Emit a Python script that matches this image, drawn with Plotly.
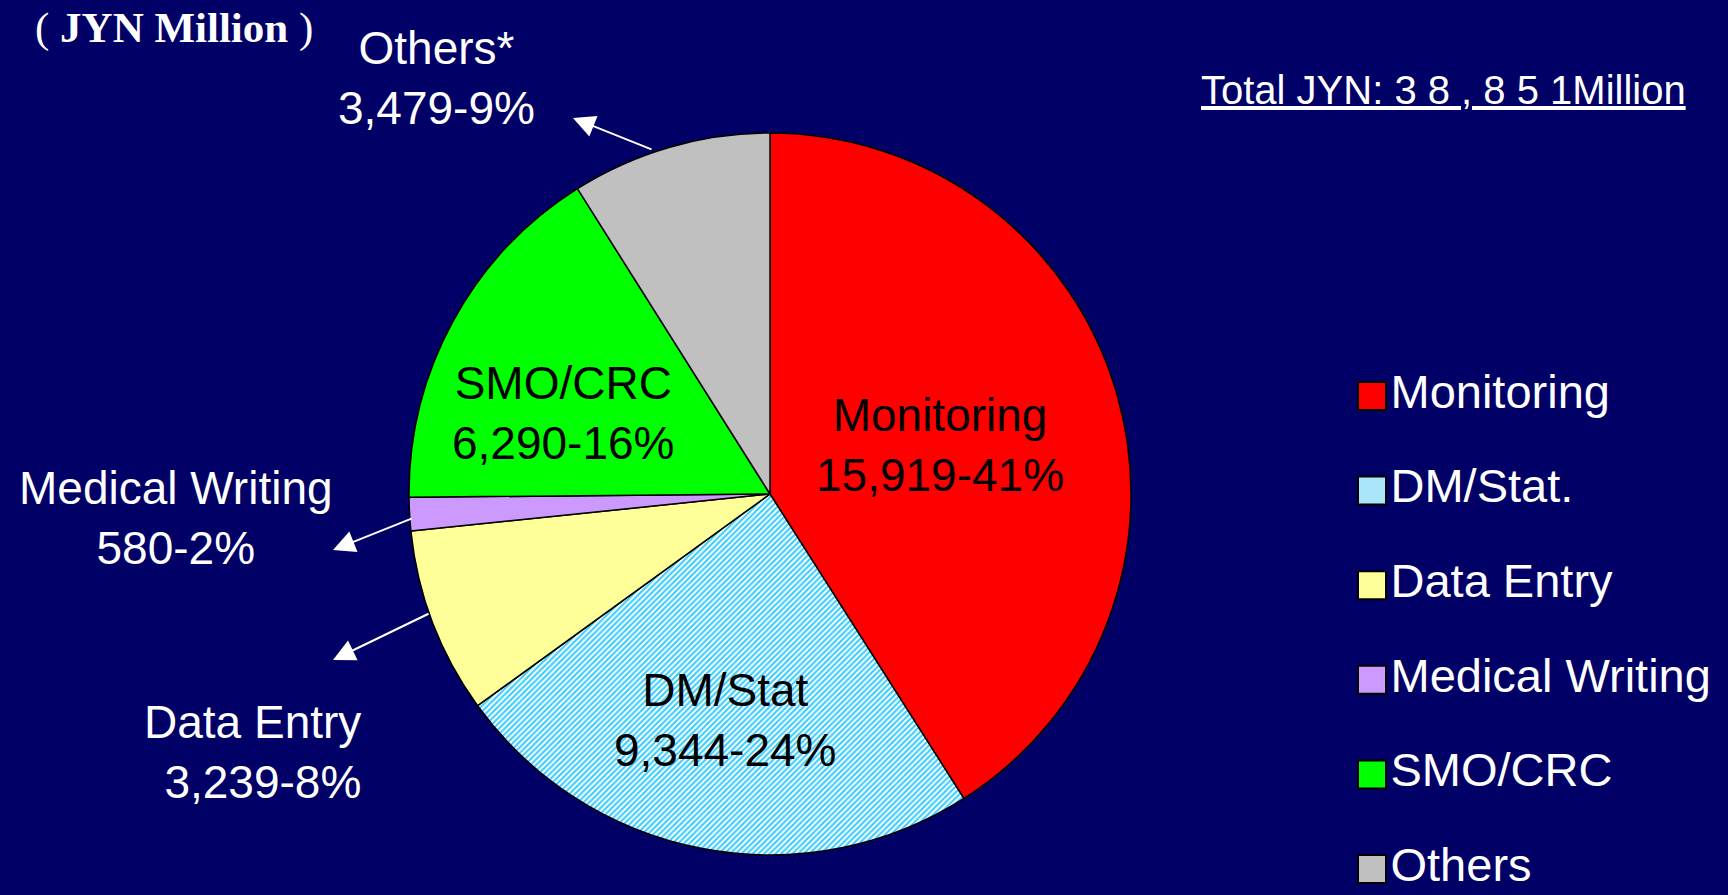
import plotly.graph_objects as go

# ---- data ----
categories = ["Monitoring", "DM/Stat", "Data Entry", "Medical Writing", "SMO/CRC", "Others*"]
values = [15919, 9344, 3239, 580, 6290, 3479]
percents = [41, 24, 8, 2, 16, 9]
legend_labels = ["Monitoring", "DM/Stat.", "Data Entry", "Medical Writing", "SMO/CRC", "Others"]
colors = ["#FF0000", "#A9E6FA", "#FFFF99", "#CC99FF", "#00FF00", "#C0C0C0"]

W, H = 1728, 895
BG = "#000066"
SANS = "Liberation Sans, Arial, sans-serif"
SERIF = "Liberation Serif, Times New Roman, serif"

def px(x):
    return x / W

def py(y):
    return 1 - y / H

fig = go.Figure()

# pie
cx, cy, r = 770, 494, 361
fig.add_trace(go.Pie(
    labels=categories,
    values=values,
    sort=False,
    direction="clockwise",
    rotation=0,
    textinfo="none",
    hoverinfo="label+value+percent",
    showlegend=False,
    marker=dict(
        colors=["#FF0000", "#FFFFFF", "#FFFF99", "#CC99FF", "#00FF00", "#C0C0C0"],
        line=dict(color="black", width=1.5),
        pattern=dict(
            shape=["", "/", "", "", "", ""],
            fgcolor="#33CCFF",
            bgcolor="#FFFFFF",
            size=4,
            solidity=0.5,
        ),
    ),
    domain=dict(x=[px(cx - r), px(cx + r)], y=[py(cy + r), py(cy - r)]),
))

# legend drawn as square markers with text on hidden axes
fig.add_trace(go.Scatter(
    x=[0] * len(legend_labels),
    y=legend_labels,
    mode="markers+text",
    text=legend_labels,
    textposition="middle right",
    textfont=dict(family=SANS, size=47, color="white"),
    marker=dict(symbol="square", size=28, color=colors,
                line=dict(color="black", width=2)),
    showlegend=False,
    hoverinfo="skip",
    cliponaxis=False,
))

leg_x = 1372
leg_top, leg_step = 396, 94.6
fig.update_xaxes(visible=False, range=[-leg_x, W - leg_x], domain=[0, 1], fixedrange=True)
fig.update_yaxes(visible=False, type="category", categoryorder="array",
                 categoryarray=legend_labels,
                 range=[(H - leg_top) / leg_step, -leg_top / leg_step],
                 domain=[0, 1], fixedrange=True)

def lab(i):
    return f"{categories[i]}<br>{values[i]:,}-{percents[i]}%"

ann = []
# inside labels (black)
inside = {0: (940, 445), 1: (725, 720), 4: (563, 413)}
for i, (x, y) in inside.items():
    ann.append(dict(x=px(x), y=py(y), xref="paper", yref="paper", text=lab(i),
                    showarrow=False, font=dict(family=SANS, size=46, color="black"),
                    xanchor="center", yanchor="middle", align="center"))
# outside labels (white)
ann.append(dict(x=px(436), y=py(78), xref="paper", yref="paper", text=lab(5),
                showarrow=False, font=dict(family=SANS, size=46, color="white"),
                xanchor="center", yanchor="middle", align="center"))
ann.append(dict(x=px(176), y=py(518), xref="paper", yref="paper", text=lab(3),
                showarrow=False, font=dict(family=SANS, size=46, color="white"),
                xanchor="center", yanchor="middle", align="center"))
ann.append(dict(x=px(363), y=py(752), xref="paper", yref="paper", text=lab(2),
                showarrow=False, font=dict(family=SANS, size=46, color="white"),
                xanchor="right", yanchor="middle", align="right"))

# arrows (head position, tail offset in px)
for (hx, hy, ax, ay) in [(573, 118, 80, 32), (333, 550, 80, -32), (333, 660, 97, -47)]:
    ann.append(dict(x=px(hx), y=py(hy), xref="paper", yref="paper", text="",
                    showarrow=True, ax=ax, ay=ay, arrowhead=2, arrowsize=2.2,
                    arrowwidth=2, arrowcolor="white", standoff=0))

# unit title
ann.append(dict(x=px(33), y=py(28), xref="paper", yref="paper",
                text="( <b>JYN Million</b> )", showarrow=False,
                font=dict(family=SERIF, size=43, color="white"),
                xanchor="left", yanchor="middle"))

# total
total = sum(values)
total_txt = " ".join(f"{total:,}")
ann.append(dict(x=px(1443), y=py(90), xref="paper", yref="paper",
                text=f"<u>Total JYN: {total_txt}Million</u>", showarrow=False,
                font=dict(family=SANS, size=40, color="white"),
                xanchor="center", yanchor="middle"))

fig.update_layout(
    width=W, height=H,
    margin=dict(l=0, r=0, t=0, b=0),
    paper_bgcolor=BG, plot_bgcolor=BG,
    annotations=ann,
    showlegend=False,
)

fig.write_html(
    "out.html",
    config={"displayModeBar": False},
    post_script="document.body.style.margin='0';document.body.style.overflow='hidden';"
                "document.body.style.background='" + BG + "';",
)
